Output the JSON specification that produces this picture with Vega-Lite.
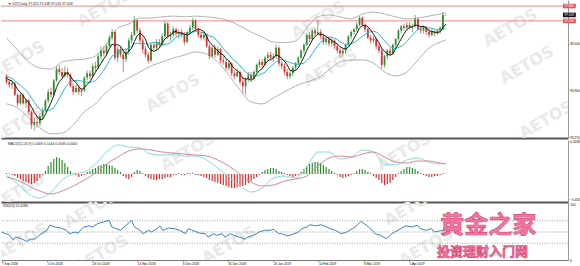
{
"$schema": "https://vega.github.io/schema/vega-lite/v6.json",
"padding": 0,
"background": "white",
"spacing": 0,
"config": {
 "view": {"stroke": null},
 "font": "Liberation Sans",
 "axis": {"labelFont": "Liberation Sans", "labelFontSize": 3.1, "labelColor": "#000", "domainColor": "#999", "tickColor": "#999", "tickSize": 1, "labelPadding": 0.8, "grid": false, "labelOverlap": false, "labelFlush": false}
},
"datasets": {
 "c": [
{"i":0,"o":95.40,"h":95.48,"l":95.12,"c":95.20,"m5":95.34,"m10":95.42,"hi":0.017},
{"i":1,"o":95.20,"h":95.30,"l":95.00,"c":95.10,"m5":95.27,"m10":95.36,"hi":0.009},
{"i":2,"o":95.10,"h":95.25,"l":94.95,"c":95.15,"m5":95.23,"m10":95.32,"hi":-0.017},
{"i":3,"o":95.15,"h":95.20,"l":94.70,"c":94.75,"m5":95.10,"m10":95.25,"hi":-0.035},
{"i":4,"o":94.75,"h":94.80,"l":94.35,"c":94.45,"m5":94.93,"m10":95.14,"hi":-0.069},
{"i":5,"o":94.45,"h":94.85,"l":94.40,"c":94.75,"m5":94.84,"m10":95.09,"hi":-0.087},
{"i":6,"o":94.75,"h":94.80,"l":94.40,"c":94.45,"m5":94.71,"m10":94.99,"hi":-0.121},
{"i":7,"o":94.45,"h":94.60,"l":94.30,"c":94.55,"m5":94.59,"m10":94.91,"hi":-0.138},
{"i":8,"o":94.55,"h":94.60,"l":94.05,"c":94.15,"m5":94.47,"m10":94.79,"hi":-0.156},
{"i":9,"o":94.15,"h":94.20,"l":93.55,"c":93.70,"m5":94.32,"m10":94.63,"hi":-0.173},
{"i":10,"o":93.70,"h":93.95,"l":93.50,"c":93.80,"m5":94.13,"m10":94.49,"hi":-0.156},
{"i":11,"o":93.80,"h":94.00,"l":93.60,"c":93.75,"m5":93.99,"m10":94.35,"hi":-0.121},
{"i":12,"o":93.75,"h":94.10,"l":93.65,"c":94.00,"m5":93.88,"m10":94.24,"hi":-0.069},
{"i":13,"o":94.00,"h":94.30,"l":93.90,"c":94.20,"m5":93.89,"m10":94.18,"hi":-0.017},
{"i":14,"o":94.20,"h":94.60,"l":94.15,"c":94.55,"m5":94.06,"m10":94.19,"hi":0.052},
{"i":15,"o":94.55,"h":94.95,"l":94.45,"c":94.85,"m5":94.27,"m10":94.20,"hi":0.138},
{"i":16,"o":94.85,"h":95.00,"l":94.65,"c":94.75,"m5":94.47,"m10":94.23,"hi":0.208},
{"i":17,"o":94.75,"h":95.30,"l":94.70,"c":95.25,"m5":94.72,"m10":94.30,"hi":0.260},
{"i":18,"o":95.25,"h":95.75,"l":95.20,"c":95.65,"m5":95.01,"m10":94.45,"hi":0.294},
{"i":19,"o":95.65,"h":95.80,"l":95.45,"c":95.55,"m5":95.21,"m10":94.64,"hi":0.277},
{"i":20,"o":95.55,"h":95.70,"l":95.30,"c":95.40,"m5":95.32,"m10":94.80,"hi":0.242},
{"i":21,"o":95.40,"h":95.75,"l":95.35,"c":95.55,"m5":95.48,"m10":94.98,"hi":0.190},
{"i":22,"o":95.55,"h":95.70,"l":95.35,"c":95.45,"m5":95.52,"m10":95.12,"hi":0.121},
{"i":23,"o":95.45,"h":95.50,"l":95.00,"c":95.05,"m5":95.40,"m10":95.21,"hi":0.052},
{"i":24,"o":95.05,"h":95.15,"l":94.75,"c":94.85,"m5":95.26,"m10":95.24,"hi":0.009},
{"i":25,"o":94.85,"h":95.10,"l":94.80,"c":95.00,"m5":95.18,"m10":95.25,"hi":-0.017},
{"i":26,"o":95.00,"h":95.10,"l":94.75,"c":94.85,"m5":95.04,"m10":95.26,"hi":-0.052},
{"i":27,"o":94.85,"h":95.00,"l":94.70,"c":94.90,"m5":94.93,"m10":95.23,"hi":-0.035},
{"i":28,"o":94.90,"h":95.40,"l":94.85,"c":95.35,"m5":94.99,"m10":95.20,"hi":-0.017},
{"i":29,"o":95.35,"h":95.60,"l":95.25,"c":95.50,"m5":95.12,"m10":95.19,"hi":0.035},
{"i":30,"o":95.50,"h":95.60,"l":95.30,"c":95.40,"m5":95.20,"m10":95.19,"hi":0.052},
{"i":31,"o":95.40,"h":95.85,"l":95.35,"c":95.75,"m5":95.38,"m10":95.21,"hi":0.087},
{"i":32,"o":95.75,"h":95.90,"l":95.55,"c":95.70,"m5":95.54,"m10":95.24,"hi":0.104},
{"i":33,"o":95.70,"h":96.20,"l":95.65,"c":96.10,"m5":95.69,"m10":95.34,"hi":0.138},
{"i":34,"o":96.10,"h":96.45,"l":96.00,"c":96.30,"m5":95.85,"m10":95.49,"hi":0.156},
{"i":35,"o":96.30,"h":96.45,"l":96.10,"c":96.20,"m5":96.01,"m10":95.61,"hi":0.173},
{"i":36,"o":96.20,"h":96.55,"l":96.10,"c":96.45,"m5":96.15,"m10":95.77,"hi":0.173},
{"i":37,"o":96.45,"h":96.85,"l":96.40,"c":96.75,"m5":96.36,"m10":95.95,"hi":0.156},
{"i":38,"o":96.75,"h":97.05,"l":96.65,"c":96.95,"m5":96.53,"m10":96.11,"hi":0.138},
{"i":39,"o":96.95,"h":97.00,"l":95.95,"c":96.05,"m5":96.48,"m10":96.17,"hi":0.104},
{"i":40,"o":96.05,"h":96.45,"l":95.90,"c":96.35,"m5":96.51,"m10":96.26,"hi":0.069},
{"i":41,"o":96.35,"h":96.45,"l":96.05,"c":96.15,"m5":96.45,"m10":96.30,"hi":0.035},
{"i":42,"o":96.15,"h":96.30,"l":95.55,"c":96.00,"m5":96.30,"m10":96.33,"hi":-0.035},
{"i":43,"o":96.00,"h":96.35,"l":95.90,"c":96.25,"m5":96.16,"m10":96.35,"hi":-0.069},
{"i":44,"o":96.25,"h":96.75,"l":96.15,"c":96.65,"m5":96.28,"m10":96.38,"hi":-0.087},
{"i":45,"o":96.65,"h":96.95,"l":96.55,"c":96.85,"m5":96.38,"m10":96.45,"hi":-0.052},
{"i":46,"o":96.85,"h":97.51,"l":96.80,"c":97.35,"m5":96.62,"m10":96.54,"hi":0.035},
{"i":47,"o":97.35,"h":97.40,"l":96.90,"c":97.00,"m5":96.82,"m10":96.56,"hi":0.069},
{"i":48,"o":97.00,"h":97.10,"l":96.55,"c":96.65,"m5":96.90,"m10":96.53,"hi":0.052},
{"i":49,"o":96.65,"h":96.75,"l":96.20,"c":96.35,"m5":96.84,"m10":96.56,"hi":0.017},
{"i":50,"o":96.35,"h":96.45,"l":96.05,"c":96.15,"m5":96.70,"m10":96.54,"hi":-0.035},
{"i":51,"o":96.15,"h":96.25,"l":95.85,"c":95.95,"m5":96.42,"m10":96.52,"hi":-0.069},
{"i":52,"o":95.95,"h":96.55,"l":95.90,"c":96.50,"m5":96.32,"m10":96.57,"hi":-0.087},
{"i":53,"o":96.50,"h":96.60,"l":96.30,"c":96.40,"m5":96.27,"m10":96.59,"hi":-0.104},
{"i":54,"o":96.40,"h":96.70,"l":96.30,"c":96.60,"m5":96.32,"m10":96.58,"hi":-0.104},
{"i":55,"o":96.60,"h":96.70,"l":96.40,"c":96.50,"m5":96.39,"m10":96.55,"hi":-0.087},
{"i":56,"o":96.50,"h":96.90,"l":96.45,"c":96.80,"m5":96.56,"m10":96.49,"hi":-0.087},
{"i":57,"o":96.80,"h":97.35,"l":96.75,"c":97.25,"m5":96.71,"m10":96.52,"hi":-0.069},
{"i":58,"o":97.25,"h":97.30,"l":96.70,"c":96.80,"m5":96.79,"m10":96.53,"hi":-0.052},
{"i":59,"o":96.80,"h":96.95,"l":96.65,"c":96.85,"m5":96.84,"m10":96.58,"hi":-0.052},
{"i":60,"o":96.85,"h":97.15,"l":96.75,"c":97.05,"m5":96.95,"m10":96.67,"hi":-0.017},
{"i":61,"o":97.05,"h":97.10,"l":96.80,"c":96.90,"m5":96.97,"m10":96.77,"hi":-0.017},
{"i":62,"o":96.90,"h":97.05,"l":96.70,"c":96.95,"m5":96.91,"m10":96.81,"hi":0.017},
{"i":63,"o":96.95,"h":97.05,"l":96.75,"c":96.85,"m5":96.92,"m10":96.86,"hi":-0.017},
{"i":64,"o":96.85,"h":96.95,"l":96.50,"c":96.60,"m5":96.87,"m10":96.86,"hi":-0.017},
{"i":65,"o":96.60,"h":97.00,"l":96.55,"c":96.95,"m5":96.85,"m10":96.90,"hi":0.017},
{"i":66,"o":96.95,"h":97.20,"l":96.90,"c":97.10,"m5":96.89,"m10":96.93,"hi":0.017},
{"i":67,"o":97.10,"h":97.45,"l":97.00,"c":97.35,"m5":96.97,"m10":96.94,"hi":0.017},
{"i":68,"o":97.35,"h":97.40,"l":97.00,"c":97.05,"m5":97.01,"m10":96.97,"hi":-0.017},
{"i":69,"o":97.05,"h":97.10,"l":96.75,"c":96.85,"m5":97.06,"m10":96.97,"hi":-0.017},
{"i":70,"o":96.85,"h":96.95,"l":96.65,"c":96.75,"m5":97.02,"m10":96.94,"hi":-0.035},
{"i":71,"o":96.75,"h":96.95,"l":96.65,"c":96.85,"m5":96.97,"m10":96.93,"hi":-0.052},
{"i":72,"o":96.85,"h":96.90,"l":96.40,"c":96.45,"m5":96.79,"m10":96.88,"hi":-0.069},
{"i":73,"o":96.45,"h":96.55,"l":96.00,"c":96.10,"m5":96.60,"m10":96.81,"hi":-0.104},
{"i":74,"o":96.10,"h":96.50,"l":96.05,"c":96.40,"m5":96.51,"m10":96.79,"hi":-0.121},
{"i":75,"o":96.40,"h":96.50,"l":96.05,"c":96.15,"m5":96.39,"m10":96.71,"hi":-0.138},
{"i":76,"o":96.15,"h":96.45,"l":96.10,"c":96.35,"m5":96.29,"m10":96.63,"hi":-0.156},
{"i":77,"o":96.35,"h":96.40,"l":95.85,"c":95.95,"m5":96.19,"m10":96.49,"hi":-0.173},
{"i":78,"o":95.95,"h":96.10,"l":95.80,"c":95.90,"m5":96.15,"m10":96.38,"hi":-0.190},
{"i":79,"o":95.90,"h":96.00,"l":95.60,"c":95.70,"m5":96.01,"m10":96.26,"hi":-0.208},
{"i":80,"o":95.70,"h":95.95,"l":95.60,"c":95.85,"m5":95.95,"m10":96.17,"hi":-0.225},
{"i":81,"o":95.85,"h":95.90,"l":95.40,"c":95.50,"m5":95.78,"m10":96.04,"hi":-0.242},
{"i":82,"o":95.50,"h":95.60,"l":95.30,"c":95.40,"m5":95.67,"m10":95.93,"hi":-0.242},
{"i":83,"o":95.40,"h":95.65,"l":95.35,"c":95.55,"m5":95.60,"m10":95.88,"hi":-0.225},
{"i":84,"o":95.55,"h":95.60,"l":95.10,"c":95.20,"m5":95.50,"m10":95.76,"hi":-0.225},
{"i":85,"o":95.20,"h":95.35,"l":94.80,"c":95.05,"m5":95.34,"m10":95.65,"hi":-0.208},
{"i":86,"o":95.05,"h":95.35,"l":94.75,"c":95.30,"m5":95.30,"m10":95.54,"hi":-0.190},
{"i":87,"o":95.30,"h":95.55,"l":95.20,"c":95.45,"m5":95.31,"m10":95.49,"hi":-0.156},
{"i":88,"o":95.45,"h":95.55,"l":95.20,"c":95.30,"m5":95.26,"m10":95.43,"hi":-0.121},
{"i":89,"o":95.30,"h":95.60,"l":95.25,"c":95.55,"m5":95.33,"m10":95.42,"hi":-0.087},
{"i":90,"o":95.55,"h":95.85,"l":95.50,"c":95.80,"m5":95.48,"m10":95.41,"hi":-0.052},
{"i":91,"o":95.80,"h":96.00,"l":95.70,"c":95.90,"m5":95.60,"m10":95.45,"hi":-0.017},
{"i":92,"o":95.90,"h":96.00,"l":95.70,"c":95.80,"m5":95.67,"m10":95.49,"hi":0.035},
{"i":93,"o":95.80,"h":96.10,"l":95.75,"c":96.05,"m5":95.82,"m10":95.54,"hi":0.069},
{"i":94,"o":96.05,"h":96.25,"l":95.95,"c":96.15,"m5":95.94,"m10":95.64,"hi":0.087},
{"i":95,"o":96.15,"h":96.25,"l":95.95,"c":96.05,"m5":95.99,"m10":95.74,"hi":0.104},
{"i":96,"o":96.05,"h":96.20,"l":95.90,"c":96.10,"m5":96.03,"m10":95.82,"hi":0.104},
{"i":97,"o":96.10,"h":96.50,"l":96.00,"c":96.40,"m5":96.15,"m10":95.91,"hi":0.087},
{"i":98,"o":96.40,"h":96.45,"l":95.75,"c":95.85,"m5":96.11,"m10":95.97,"hi":0.052},
{"i":99,"o":95.85,"h":95.95,"l":95.65,"c":95.75,"m5":96.03,"m10":95.99,"hi":0.035},
{"i":100,"o":95.75,"h":95.85,"l":95.45,"c":95.55,"m5":95.93,"m10":95.96,"hi":0.017},
{"i":101,"o":95.55,"h":95.65,"l":95.30,"c":95.40,"m5":95.79,"m10":95.91,"hi":-0.017},
{"i":102,"o":95.40,"h":95.60,"l":95.30,"c":95.50,"m5":95.61,"m10":95.88,"hi":-0.035},
{"i":103,"o":95.50,"h":95.75,"l":95.40,"c":95.70,"m5":95.58,"m10":95.85,"hi":-0.052},
{"i":104,"o":95.70,"h":95.90,"l":95.60,"c":95.85,"m5":95.60,"m10":95.82,"hi":-0.035},
{"i":105,"o":95.85,"h":96.10,"l":95.80,"c":96.05,"m5":95.70,"m10":95.82,"hi":-0.017},
{"i":106,"o":96.05,"h":96.35,"l":96.00,"c":96.30,"m5":95.88,"m10":95.84,"hi":0.035},
{"i":107,"o":96.30,"h":96.55,"l":96.20,"c":96.50,"m5":96.08,"m10":95.85,"hi":0.087},
{"i":108,"o":96.50,"h":96.90,"l":96.45,"c":96.85,"m5":96.31,"m10":95.95,"hi":0.138},
{"i":109,"o":96.85,"h":96.95,"l":96.60,"c":96.70,"m5":96.48,"m10":96.04,"hi":0.173},
{"i":110,"o":96.70,"h":97.05,"l":96.65,"c":97.00,"m5":96.67,"m10":96.19,"hi":0.190},
{"i":111,"o":97.00,"h":97.10,"l":96.80,"c":96.90,"m5":96.79,"m10":96.34,"hi":0.208},
{"i":112,"o":96.90,"h":97.35,"l":96.85,"c":96.95,"m5":96.88,"m10":96.48,"hi":0.208},
{"i":113,"o":96.95,"h":97.05,"l":96.70,"c":96.80,"m5":96.87,"m10":96.59,"hi":0.190},
{"i":114,"o":96.80,"h":96.90,"l":96.50,"c":96.60,"m5":96.85,"m10":96.67,"hi":0.156},
{"i":115,"o":96.60,"h":96.80,"l":96.50,"c":96.70,"m5":96.79,"m10":96.73,"hi":0.121},
{"i":116,"o":96.70,"h":96.80,"l":96.45,"c":96.55,"m5":96.72,"m10":96.76,"hi":0.087},
{"i":117,"o":96.55,"h":96.75,"l":96.45,"c":96.65,"m5":96.66,"m10":96.77,"hi":0.052},
{"i":118,"o":96.65,"h":96.70,"l":96.35,"c":96.45,"m5":96.59,"m10":96.73,"hi":0.017},
{"i":119,"o":96.45,"h":96.55,"l":96.20,"c":96.30,"m5":96.53,"m10":96.69,"hi":-0.017},
{"i":120,"o":96.30,"h":96.40,"l":96.05,"c":96.20,"m5":96.43,"m10":96.61,"hi":-0.052},
{"i":121,"o":96.20,"h":96.35,"l":96.10,"c":96.30,"m5":96.38,"m10":96.55,"hi":-0.069},
{"i":122,"o":96.30,"h":96.55,"l":96.20,"c":96.50,"m5":96.35,"m10":96.51,"hi":-0.052},
{"i":123,"o":96.50,"h":96.85,"l":96.45,"c":96.80,"m5":96.42,"m10":96.51,"hi":-0.035},
{"i":124,"o":96.80,"h":97.00,"l":96.70,"c":96.95,"m5":96.55,"m10":96.54,"hi":-0.017},
{"i":125,"o":96.95,"h":97.10,"l":96.85,"c":97.05,"m5":96.72,"m10":96.58,"hi":0.017},
{"i":126,"o":97.05,"h":97.30,"l":96.95,"c":97.20,"m5":96.90,"m10":96.64,"hi":0.052},
{"i":127,"o":97.20,"h":97.51,"l":97.15,"c":97.45,"m5":97.09,"m10":96.72,"hi":0.087},
{"i":128,"o":97.45,"h":97.50,"l":97.15,"c":97.20,"m5":97.17,"m10":96.80,"hi":0.087},
{"i":129,"o":97.20,"h":97.25,"l":96.95,"c":97.05,"m5":97.19,"m10":96.87,"hi":0.069},
{"i":130,"o":97.05,"h":97.10,"l":96.70,"c":96.75,"m5":97.13,"m10":96.93,"hi":0.035},
{"i":131,"o":96.75,"h":96.85,"l":96.55,"c":96.65,"m5":97.02,"m10":96.96,"hi":0.017},
{"i":132,"o":96.65,"h":96.80,"l":96.55,"c":96.70,"m5":96.87,"m10":96.98,"hi":-0.035},
{"i":133,"o":96.70,"h":96.75,"l":96.35,"c":96.45,"m5":96.72,"m10":96.95,"hi":-0.069},
{"i":134,"o":96.45,"h":96.55,"l":96.20,"c":96.30,"m5":96.57,"m10":96.88,"hi":-0.104},
{"i":135,"o":96.30,"h":96.40,"l":95.65,"c":95.80,"m5":96.38,"m10":96.76,"hi":-0.156},
{"i":136,"o":95.80,"h":96.15,"l":95.70,"c":96.10,"m5":96.27,"m10":96.65,"hi":-0.190},
{"i":137,"o":96.10,"h":96.35,"l":96.00,"c":96.30,"m5":96.19,"m10":96.53,"hi":-0.173},
{"i":138,"o":96.30,"h":96.40,"l":96.10,"c":96.20,"m5":96.14,"m10":96.43,"hi":-0.156},
{"i":139,"o":96.20,"h":96.55,"l":96.15,"c":96.50,"m5":96.18,"m10":96.38,"hi":-0.104},
{"i":140,"o":96.50,"h":96.75,"l":96.40,"c":96.70,"m5":96.36,"m10":96.37,"hi":-0.052},
{"i":141,"o":96.70,"h":97.05,"l":96.65,"c":97.00,"m5":96.54,"m10":96.41,"hi":0.017},
{"i":142,"o":97.00,"h":97.20,"l":96.90,"c":97.15,"m5":96.71,"m10":96.45,"hi":0.052},
{"i":143,"o":97.15,"h":97.25,"l":97.00,"c":97.10,"m5":96.89,"m10":96.52,"hi":0.087},
{"i":144,"o":97.10,"h":97.30,"l":97.00,"c":97.20,"m5":97.03,"m10":96.61,"hi":0.121},
{"i":145,"o":97.20,"h":97.30,"l":97.05,"c":97.10,"m5":97.11,"m10":96.74,"hi":0.121},
{"i":146,"o":97.10,"h":97.25,"l":96.95,"c":97.15,"m5":97.14,"m10":96.84,"hi":0.104},
{"i":147,"o":97.15,"h":97.55,"l":97.10,"c":97.40,"m5":97.19,"m10":96.95,"hi":0.087},
{"i":148,"o":97.40,"h":97.45,"l":97.00,"c":97.05,"m5":97.18,"m10":97.04,"hi":0.052},
{"i":149,"o":97.05,"h":97.15,"l":96.90,"c":97.00,"m5":97.14,"m10":97.09,"hi":0.017},
{"i":150,"o":97.00,"h":97.20,"l":96.90,"c":97.10,"m5":97.14,"m10":97.13,"hi":-0.017},
{"i":151,"o":97.10,"h":97.15,"l":96.85,"c":96.95,"m5":97.10,"m10":97.12,"hi":-0.035},
{"i":152,"o":96.95,"h":97.05,"l":96.75,"c":96.85,"m5":96.99,"m10":97.09,"hi":-0.052},
{"i":153,"o":96.85,"h":97.05,"l":96.80,"c":96.95,"m5":96.97,"m10":97.08,"hi":-0.052},
{"i":154,"o":96.95,"h":97.00,"l":96.80,"c":96.90,"m5":96.95,"m10":97.05,"hi":-0.035},
{"i":155,"o":96.90,"h":97.05,"l":96.85,"c":97.00,"m5":96.93,"m10":97.04,"hi":-0.035},
{"i":156,"o":97.00,"h":97.15,"l":96.90,"c":97.10,"m5":96.96,"m10":97.03,"hi":-0.017},
{"i":157,"o":97.05,"h":97.65,"l":97.00,"c":97.55,"m5":97.10,"m10":97.05,"hi":0.017},
{"i":158,"o":97.55,"h":97.58,"l":97.52,"c":97.55,"m5":97.22,"m10":97.10,"hi":0.009}
 ],
 "bb": [
{"i":0,"up":96.74,"lo":94.43},{"i":4,"up":96.32,"lo":94.29},{"i":8,"up":95.90,"lo":93.94},{"i":12,"up":95.69,"lo":93.59},
{"i":16,"up":95.65,"lo":93.38},{"i":20,"up":95.90,"lo":93.41},{"i":24,"up":95.97,"lo":93.69},{"i":28,"up":96.00,"lo":94.15},
{"i":32,"up":96.11,"lo":94.43},{"i":36,"up":96.53,"lo":94.85},{"i":40,"up":97.09,"lo":95.13},{"i":44,"up":97.23,"lo":95.34},
{"i":48,"up":97.44,"lo":95.55},{"i":52,"up":97.44,"lo":95.76},{"i":56,"up":97.48,"lo":95.90},{"i":60,"up":97.51,"lo":96.04},
{"i":64,"up":97.48,"lo":96.14},{"i":68,"up":97.51,"lo":96.25},{"i":72,"up":97.48,"lo":96.18},{"i":76,"up":97.44,"lo":95.90},
{"i":80,"up":97.34,"lo":95.44},{"i":84,"up":97.16,"lo":94.92},{"i":88,"up":96.95,"lo":94.50},{"i":92,"up":96.78,"lo":94.43},
{"i":96,"up":96.60,"lo":94.64},{"i":100,"up":96.58,"lo":94.85},{"i":104,"up":96.64,"lo":95.06},{"i":108,"up":97.09,"lo":95.20},
{"i":112,"up":97.48,"lo":95.34},{"i":116,"up":97.55,"lo":95.62},{"i":120,"up":97.48,"lo":95.90},{"i":124,"up":97.41,"lo":95.97},
{"i":128,"up":97.58,"lo":95.97},{"i":132,"up":97.65,"lo":95.86},{"i":136,"up":97.58,"lo":95.55},{"i":140,"up":97.48,"lo":95.41},
{"i":144,"up":97.41,"lo":95.55},{"i":148,"up":97.44,"lo":95.97},{"i":152,"up":97.51,"lo":96.39},{"i":156,"up":97.58,"lo":96.60},
{"i":158,"up":97.62,"lo":96.67}
 ],
 "macd": [
{"i":0,"m":-0.017,"s":-0.052},{"i":4,"m":-0.173,"s":-0.104},{"i":8,"m":-0.345,"s":-0.207},{"i":12,"m":-0.414,"s":-0.293},
{"i":16,"m":-0.311,"s":-0.345},{"i":20,"m":-0.104,"s":-0.293},{"i":24,"m":0.0,"s":-0.207},{"i":28,"m":0.035,"s":-0.104},
{"i":32,"m":0.173,"s":0.017},{"i":36,"m":0.38,"s":0.173},{"i":40,"m":0.5,"s":0.293},{"i":44,"m":0.466,"s":0.397},
{"i":48,"m":0.449,"s":0.432},{"i":52,"m":0.345,"s":0.414},{"i":56,"m":0.328,"s":0.38},{"i":60,"m":0.345,"s":0.362},
{"i":64,"m":0.311,"s":0.345},{"i":68,"m":0.311,"s":0.328},{"i":72,"m":0.242,"s":0.311},{"i":76,"m":0.104,"s":0.242},
{"i":80,"m":-0.052,"s":0.138},{"i":84,"m":-0.207,"s":0.0},{"i":88,"m":-0.311,"s":-0.138},{"i":92,"m":-0.242,"s":-0.207},
{"i":96,"m":-0.069,"s":-0.19},{"i":100,"m":-0.035,"s":-0.121},{"i":104,"m":-0.069,"s":-0.086},{"i":108,"m":0.121,"s":-0.035},
{"i":112,"m":0.38,"s":0.138},{"i":116,"m":0.38,"s":0.276},{"i":120,"m":0.259,"s":0.311},{"i":124,"m":0.293,"s":0.293},
{"i":128,"m":0.414,"s":0.345},{"i":132,"m":0.38,"s":0.38},{"i":136,"m":0.173,"s":0.293},{"i":140,"m":0.155,"s":0.207},
{"i":144,"m":0.242,"s":0.19},{"i":148,"m":0.276,"s":0.224},{"i":152,"m":0.207,"s":0.224},{"i":156,"m":0.173,"s":0.19},
{"i":158,"m":0.19,"s":0.173}
 ],
 "rsi": [
{"i":0,"r":50},{"i":3,"r":44},{"i":4,"r":36},{"i":5,"r":41},{"i":7,"r":38},{"i":9,"r":33},{"i":10,"r":37},{"i":12,"r":38},
{"i":14,"r":47},{"i":16,"r":53},{"i":17,"r":62},{"i":19,"r":59},{"i":21,"r":57},{"i":23,"r":53},{"i":24,"r":47},{"i":26,"r":50},
{"i":27,"r":48},{"i":29,"r":59},{"i":31,"r":61},{"i":32,"r":59},{"i":34,"r":65},{"i":36,"r":68},{"i":38,"r":71},{"i":39,"r":59},
{"i":40,"r":57},{"i":42,"r":53},{"i":44,"r":62},{"i":46,"r":71},{"i":47,"r":59},{"i":49,"r":53},{"i":50,"r":47},{"i":52,"r":53},
{"i":53,"r":50},{"i":55,"r":56},{"i":56,"r":61},{"i":57,"r":53},{"i":59,"r":57},{"i":61,"r":56},{"i":63,"r":53},{"i":65,"r":47},
{"i":66,"r":56},{"i":68,"r":52},{"i":70,"r":48},{"i":72,"r":47},{"i":73,"r":41},{"i":75,"r":47},{"i":76,"r":44},{"i":78,"r":47},
{"i":79,"r":41},{"i":81,"r":47},{"i":82,"r":44},{"i":84,"r":41},{"i":86,"r":37},{"i":87,"r":41},{"i":89,"r":44},{"i":91,"r":50},
{"i":93,"r":53},{"i":95,"r":53},{"i":96,"r":55},{"i":98,"r":47},{"i":99,"r":47},{"i":101,"r":43},{"i":103,"r":46},{"i":105,"r":50},
{"i":106,"r":56},{"i":108,"r":59},{"i":109,"r":63},{"i":111,"r":61},{"i":113,"r":63},{"i":115,"r":59},{"i":116,"r":56},{"i":118,"r":53},
{"i":120,"r":47},{"i":122,"r":50},{"i":124,"r":56},{"i":125,"r":59},{"i":127,"r":69},{"i":129,"r":62},{"i":131,"r":53},{"i":132,"r":47},
{"i":134,"r":44},{"i":136,"r":38},{"i":138,"r":47},{"i":139,"r":50},{"i":141,"r":56},{"i":143,"r":61},{"i":145,"r":59},{"i":147,"r":62},
{"i":148,"r":56},{"i":150,"r":53},{"i":152,"r":56},{"i":153,"r":50},{"i":155,"r":52},{"i":156,"r":53},{"i":157,"r":62},{"i":158,"r":59}
 ],
 "lv": [
{"p":97.86,"t":"97.860","k":"r"},{"p":97.55,"t":"97.549","k":"b"},{"p":97.34,"t":"97.340","k":"r"}
 ],
 "wm1": [
{"i":35.2,"y":97.79,"t":"AETOS"},{"i":112.2,"y":97.37,"t":"AETOS"},{"i":181.2,"y":97.09,"t":"AETOS"},
{"i":116.5,"y":95.69,"t":"AETOS"},{"i":59.9,"y":94.81,"t":"AETOS"},{"i":187.2,"y":95.79,"t":"AETOS"},
{"i":4.1,"y":93.69,"t":"AETOS"},{"i":194.2,"y":93.87,"t":"AETOS"},{"i":4.1,"y":95.97,"t":"AETOS"}
 ],
 "wm2": [
{"i":65.2,"y":0.38,"t":"AETOS"},{"i":143,"y":0.38,"t":"AETOS"},{"i":4.1,"y":-0.31,"t":"AETOS"}
 ],
 "wm3": [
{"i":31.6,"y":91,"t":"AETOS"},{"i":6.9,"y":32,"t":"AETOS"},{"i":35.2,"y":11,"t":"AETOS"},
{"i":80.4,"y":27,"t":"AETOS"},{"i":144.8,"y":95,"t":"AETOS"},{"i":150,"y":23,"t":"AETOS"}
 ],
 "lev": [{"v":30},{"v":50},{"v":70}],
 "lg": [
{"i":172,"y":61,"t":"黄金之家","s":24},{"i":170,"y":14,"t":"投资理财入门网","s":13}
 ]
},
"vconcat": [
 {
  "width": 567, "height": 138,
  "layer": [
   {"data": {"name": "wm1"}, "mark": {"type": "text", "angle": -30, "fontSize": 16, "fontWeight": "bold", "font": "DejaVu Sans", "color": "#e9e9e9", "clip": true},
    "encoding": {
     "x": {"field": "i", "type": "quantitative", "title": null, "scale": {"domain": [-0.18, 200.2], "nice": false, "zero": false},
       "axis": {"orient": "bottom", "labels": false, "ticks": false, "domainColor": "#555", "domainWidth": 2}},
     "y": {"field": "y", "type": "quantitative", "title": null,
      "scale": {"domain": [93.235, 98.072], "nice": false, "zero": false},
      "axis": {"orient": "right", "values": [96.95, 96.54, 96.13, 95.72, 95.31, 94.9, 94.5, 94.09, 93.68, 93.27], "format": ".3f", "labelOverlap": false, "labelBound": false}},
     "text": {"field": "t"}}},
   {"data": {"name": "bb"}, "mark": {"type": "line", "color": "#a0a0a0", "strokeWidth": 0.8, "interpolate": "monotone", "clip": true},
    "encoding": {"x": {"field": "i", "type": "quantitative", "title": null}, "y": {"field": "up", "type": "quantitative", "title": null}}},
   {"data": {"name": "bb"}, "mark": {"type": "line", "color": "#a0a0a0", "strokeWidth": 0.8, "interpolate": "monotone", "clip": true},
    "encoding": {"x": {"field": "i", "type": "quantitative", "title": null}, "y": {"field": "lo", "type": "quantitative", "title": null}}},
   {"data": {"name": "lv"}, "transform": [{"filter": "datum.k == 'r'"}], "mark": {"type": "rule", "color": "#e06a6a", "strokeWidth": 0.8},
    "encoding": {"y": {"field": "p", "type": "quantitative", "title": null}}},
   {"data": {"name": "c"}, "mark": {"type": "rule", "strokeWidth": 0.7, "clip": true},
    "encoding": {"x": {"field": "i", "type": "quantitative", "title": null}, "y": {"field": "l", "type": "quantitative", "title": null}, "y2": {"field": "h"},
     "color": {"condition": {"test": "datum.c >= datum.o", "value": "#3b8f3b"}, "value": "#c94040"}}},
   {"data": {"name": "c"}, "mark": {"type": "bar", "size": 1.8, "clip": true},
    "encoding": {"x": {"field": "i", "type": "quantitative", "title": null}, "y": {"field": "o", "type": "quantitative", "title": null}, "y2": {"field": "c"},
     "color": {"condition": {"test": "datum.c >= datum.o", "value": "#2f8f2f"}, "value": "#d9302f"}}},
   {"data": {"name": "c"}, "mark": {"type": "line", "color": "#2fb8c4", "strokeWidth": 1, "clip": true},
    "encoding": {"x": {"field": "i", "type": "quantitative", "title": null}, "y": {"field": "m10", "type": "quantitative", "title": null}}},
   {"data": {"name": "c"}, "mark": {"type": "line", "color": "#1a1a1a", "strokeWidth": 1, "clip": true},
    "encoding": {"x": {"field": "i", "type": "quantitative", "title": null}, "y": {"field": "m5", "type": "quantitative", "title": null}}},
   {"data": {"name": "lv"}, "mark": {"type": "rule", "strokeWidth": 4.6, "strokeCap": "butt"},
    "encoding": {"x": {"datum": 200.2, "type": "quantitative", "title": null}, "x2": {"datum": 204.8}, "y": {"field": "p", "type": "quantitative", "title": null},
     "color": {"condition": {"test": "datum.k == 'b'", "value": "#111111"}, "value": "#e05555"}}},
   {"data": {"name": "lv"}, "mark": {"type": "text", "fontSize": 3.1, "color": "white", "align": "left", "baseline": "middle", "dx": 1.5},
    "encoding": {"x": {"datum": 200.2, "type": "quantitative", "title": null}, "y": {"field": "p", "type": "quantitative", "title": null}, "text": {"field": "t"}}},
   {"data": {"values": [{"t": "▼ DXY,Daily  97.025 97.038 97.016 97.028"}]}, "mark": {"type": "text", "fontSize": 3.4, "color": "#222", "align": "left", "baseline": "top", "dx": 2, "dy": 1.5},
    "encoding": {"x": {"datum": -0.18, "type": "quantitative", "title": null}, "y": {"datum": 98.072, "type": "quantitative", "title": null}, "text": {"field": "t"}}}
  ]
 },
 {
  "width": 567, "height": 62,
  "layer": [
   {"data": {"name": "wm2"}, "mark": {"type": "text", "angle": -30, "fontSize": 16, "fontWeight": "bold", "font": "DejaVu Sans", "color": "#e9e9e9", "clip": true},
    "encoding": {
     "x": {"field": "i", "type": "quantitative", "title": null, "scale": {"domain": [-0.18, 200.2], "nice": false, "zero": false},
       "axis": {"orient": "bottom", "labels": false, "ticks": false, "domainColor": "#555", "domainWidth": 2}},
     "y": {"field": "y", "type": "quantitative", "title": null,
      "scale": {"domain": [-0.483, 0.587], "nice": false, "zero": false},
      "axis": {"orient": "right", "values": [0.5558, 0, -0.4315], "labelOverlap": false, "labelBound": false, "labelExpr": "datum.value == 0 ? '0.00' : format(datum.value, '.4f')"}},
     "text": {"field": "t"}}},
   {"data": {"name": "c"}, "mark": {"type": "bar", "size": 1.2, "clip": true},
    "encoding": {"x": {"field": "i", "type": "quantitative", "title": null}, "y": {"field": "hi", "type": "quantitative", "title": null}, "y2": {"datum": 0},
     "color": {"condition": {"test": "datum.hi >= 0", "value": "#2f8f2f"}, "value": "#d9302f"}}},
   {"data": {"name": "macd"}, "mark": {"type": "line", "color": "#86d9e2", "strokeWidth": 1, "interpolate": "monotone", "clip": true},
    "encoding": {"x": {"field": "i", "type": "quantitative", "title": null}, "y": {"field": "m", "type": "quantitative", "title": null}}},
   {"data": {"name": "macd"}, "mark": {"type": "line", "color": "#d98893", "strokeWidth": 1, "interpolate": "monotone", "clip": true},
    "encoding": {"x": {"field": "i", "type": "quantitative", "title": null}, "y": {"field": "s", "type": "quantitative", "title": null}}},
   {"data": {"values": [{"t": "MACD(12,26,9) 0.1609 0.1444 0.0166 0.0000"}]}, "mark": {"type": "text", "fontSize": 3.4, "color": "#222", "align": "left", "baseline": "top", "dx": 2, "dy": 1.5},
    "encoding": {"x": {"datum": -0.18, "type": "quantitative", "title": null}, "y": {"datum": 0.587, "type": "quantitative", "title": null}, "text": {"field": "t"}}}
  ]
 },
 {
  "width": 567, "height": 58,
  "layer": [
   {"data": {"name": "wm3"}, "mark": {"type": "text", "angle": -30, "fontSize": 16, "fontWeight": "bold", "font": "DejaVu Sans", "color": "#e9e9e9", "clip": true},
    "encoding": {
     "x": {"field": "i", "type": "quantitative", "title": null, "scale": {"domain": [-0.18, 200.2], "nice": false, "zero": false},
      "axis": {"orient": "bottom", "values": [0, 8, 16, 24, 32, 40, 48, 56, 64, 72, 80, 88, 96, 104, 112, 120, 128, 136, 144, 152], "labelOverlap": false,
       "labelExpr": "['7 Sep 2018','19 Sep 2018','1 Oct 2018','11 Oct 2018','23 Oct 2018','2 Nov 2018','14 Nov 2018','26 Nov 2018','6 Dec 2018','18 Dec 2018','31 Dec 2018','11 Jan 2019','23 Jan 2019','4 Feb 2019','14 Feb 2019','26 Feb 2019','8 Mar 2019','20 Mar 2019','1 Apr 2019','11 Apr 2019'][round(datum.value / 8)]",
       "labelAlign": "left", "labelPadding": 1, "tickSize": 1.5, "domainColor": "#777", "domainWidth": 1}},
     "y": {"field": "y", "type": "quantitative", "title": null,
      "scale": {"domain": [0, 103.6], "nice": false, "zero": false},
      "axis": {"orient": "right", "values": [0, 30, 50, 70, 100], "labelOverlap": false, "labelBound": false}},
     "text": {"field": "t"}}},
   {"data": {"name": "lev"}, "mark": {"type": "rule", "color": "#777", "strokeWidth": 0.7, "strokeDash": [1, 1.5]},
    "encoding": {"y": {"field": "v", "type": "quantitative", "title": null}}},
   {"data": {"name": "rsi"}, "mark": {"type": "line", "color": "#3b82c4", "strokeWidth": 1, "clip": true},
    "encoding": {"x": {"field": "i", "type": "quantitative", "title": null}, "y": {"field": "r", "type": "quantitative", "title": null}}},
   {"data": {"values": [{"t": "RSI(14) 59.4286"}]}, "mark": {"type": "text", "fontSize": 3.4, "color": "#222", "align": "left", "baseline": "top", "dx": 2, "dy": 1.5},
    "encoding": {"x": {"datum": -0.18, "type": "quantitative", "title": null}, "y": {"datum": 103.6, "type": "quantitative", "title": null}, "text": {"field": "t"}}},
   {"data": {"name": "lg"}, "mark": {"type": "text", "font": "Noto Sans CJK SC", "fontWeight": "bold", "color": "#f27aa2", "stroke": "#d8406f", "strokeWidth": 0.6, "align": "center", "baseline": "middle", "clip": true},
    "encoding": {"x": {"field": "i", "type": "quantitative", "title": null}, "y": {"field": "y", "type": "quantitative", "title": null}, "text": {"field": "t"}, "size": {"field": "s", "type": "quantitative", "scale": null, "legend": null}}}
  ]
 }
]
}
